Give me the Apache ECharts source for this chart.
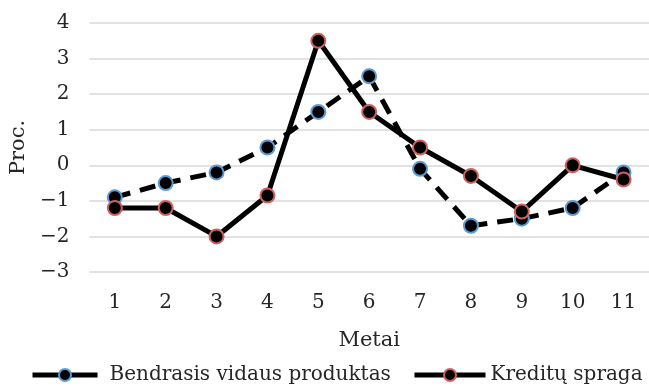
<!DOCTYPE html>
<html>
<head>
<meta charset="utf-8">
<script src="https://cdn.jsdelivr.net/npm/echarts@6/dist/echarts.min.js"></script>
<style>html,body{margin:0;padding:0;background:#fff}#c{width:649px;height:386px}</style>
</head>
<body>
<div id="c"></div>
<script>
const categories = ['1','2','3','4','5','6','7','8','9','10','11'];
const bvpName = 'Bendrasis vidaus produktas';
const kreditName = 'Kreditų spraga';
const bvpValues = [-0.9, -0.5, -0.2, 0.5, 1.5, 2.5, -0.1, -1.7, -1.5, -1.2, -0.2];
const kreditValues = [-1.2, -1.2, -2.0, -0.85, 3.5, 1.5, 0.5, -0.3, -1.3, 0.0, -0.4];
const yTicks = {min: -3, max: 4, interval: 1};

const font = 'DejaVu Serif';
const txt = '#262626';
const chart = echarts.init(document.getElementById('c'));
const legendBase = {itemHeight: 15, lineStyle: {width: 5, type: 'solid', color: '#000'},
  textStyle: {color: txt, fontFamily: font, fontSize: 20}};
chart.setOption({
  animation: false,
  textStyle: {fontFamily: font},
  grid: {left: 87, top: 23, width: 569, height: 249, containLabel: false},
  xAxis: {
    type: 'category', data: categories, boundaryGap: true,
    axisLine: {show: false}, axisTick: {show: false},
    axisLabel: {color: txt, fontFamily: font, fontSize: 20, margin: 21},
    name: 'Metai', nameLocation: 'middle', nameGap: 58,
    nameTextStyle: {color: txt, fontFamily: font, fontSize: 21}
  },
  yAxis: {
    type: 'value', min: yTicks.min, max: yTicks.max, interval: yTicks.interval,
    axisLine: {show: false}, axisTick: {show: false},
    axisLabel: {color: txt, fontFamily: font, fontSize: 20, margin: 20,
      formatter: v => String(v).replace('-', '\u2212')},
    splitLine: {lineStyle: {color: '#d9d9d9', width: 1.5}},
    name: 'Proc.', nameLocation: 'middle', nameGap: 48,
    nameTextStyle: {color: txt, fontFamily: font, fontSize: 21}
  },
  legend: [
    Object.assign({}, legendBase, {data: [bvpName], left: 25, top: 360, itemWidth: 65,
      textStyle: Object.assign({}, legendBase.textStyle, {padding: [0,0,0,7]})}),
    Object.assign({}, legendBase, {data: [kreditName], left: 407, top: 360, itemWidth: 71})
  ],
  series: [
    {
      name: bvpName, type: 'line', data: bvpValues,
      symbol: 'circle', symbolSize: 14,
      lineStyle: {color: '#000', width: 5, type: [16, 10]},
      itemStyle: {color: '#000', borderColor: '#5B9BD5', borderWidth: 2}
    },
    {
      name: kreditName, type: 'line', data: kreditValues,
      symbol: 'circle', symbolSize: 14,
      lineStyle: {color: '#000', width: 5, type: 'solid'},
      itemStyle: {color: '#000', borderColor: '#D0605E', borderWidth: 2}
    }
  ]
});
</script>
</body>
</html>
